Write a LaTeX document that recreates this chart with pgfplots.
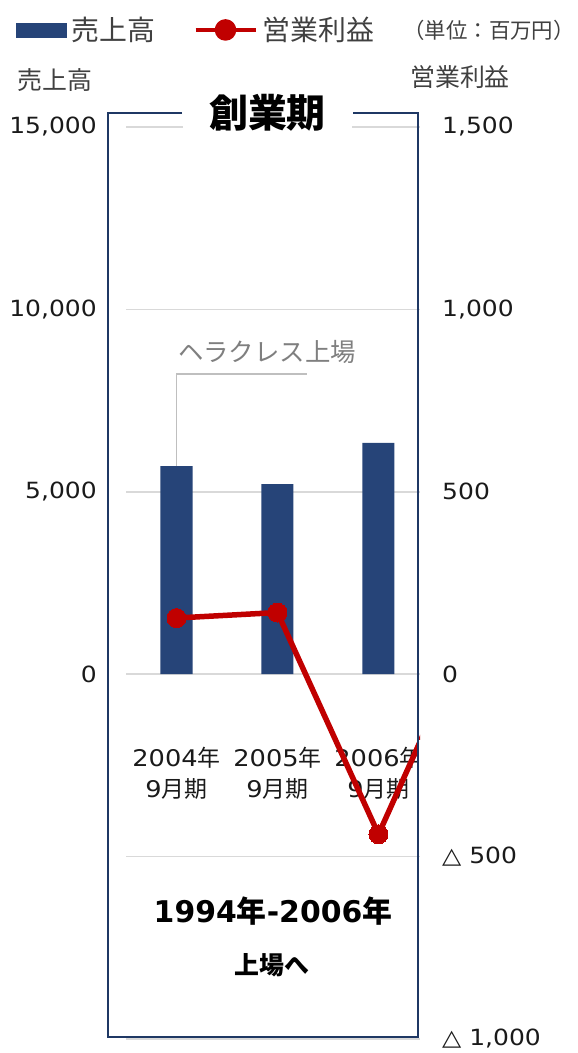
\documentclass[border=0pt]{standalone}
\usepackage{fontspec}
\setmainfont{DejaVu Sans}[FakeStretch=1.12]
\newfontfamily\dv{DejaVu Sans}
\newfontfamily\jp{Noto Sans CJK JP}
\usepackage{pgfplots}
\pgfplotsset{compat=1.18}
\definecolor{barblue}{HTML}{264478}
\definecolor{linered}{HTML}{C00000}
\definecolor{boxnavy}{HTML}{1F3864}
\definecolor{gridgray}{HTML}{D9D9D9}
\definecolor{txt}{HTML}{1A1A1A}
\definecolor{txtb}{HTML}{404040}
\definecolor{annog}{HTML}{7F7F7F}
\definecolor{leadg}{HTML}{BFBFBF}
\begin{document}
\begin{tikzpicture}[x=1bp,y=1bp]
\begin{axis}[
  at={(126bp,14bp)}, anchor=south west, scale only axis,
  width=294bp, height=912bp,
  xmin=-0.5, xmax=2.411, ymin=-10000, ymax=15000,
  scaled y ticks=false,
  xtick={0,1,2},
  xticklabels={{2004{\jp 年}\\9{\jp 月期}},{2005{\jp 年}\\9{\jp 月期}},{2006{\jp 年}\\9{\jp 月期}}},
  xticklabel style={anchor=center, yshift=266bp, inner sep=0bp, align=center,
    font=\fontsize{23}{31}\selectfont, text=txt},
  ytick={-10000,-5000,0,5000,10000,15000},
  yticklabels={,,0,{5,000},{10,000},{15,000}},
  yticklabel style={anchor=east, inner sep=0bp, xshift=-29bp,
    font=\fontsize{22.4}{26}\selectfont, text=txt},
  ymajorgrids, grid style={gridgray, line width=1.5bp},
  axis line style={draw=none}, major tick length=0bp,
  ybar, bar width=32bp,
]
\addplot[fill=barblue, draw=none] coordinates {(0,5704) (1,5210) (2,6343)};
\draw[leadg, line width=1.5bp] (axis cs:0,5704) -- (axis cs:0,8227) -- (axis cs:1.29,8227);
\end{axis}
\begin{axis}[
  at={(126bp,14bp)}, anchor=south west, scale only axis,
  width=294bp, height=912bp,
  xmin=-0.5, xmax=2.411, ymin=-1000, ymax=1500,
  scaled y ticks=false,
  axis y line*=right, axis x line=none,
  ytick={-1000,-500,0,500,1000,1500},
  yticklabels={{△ 1,000},{△ 500},0,500,{1,000},{1,500}},
  yticklabel style={anchor=west, inner sep=0bp, xshift=22bp,
    font=\fontsize{22.4}{26}\selectfont, text=txt},
  axis line style={draw=none}, major tick length=0bp,
  clip marker paths=true,
  legend columns=2,
  legend style={at={(axis description cs:-0.3844,1.1064)}, anchor=west,
    draw=none, fill=none, text=txtb, font=\fontsize{28}{32}\selectfont,
    nodes={inner sep=0bp},
    /tikz/every odd column/.append style={column sep=5bp},
    /tikz/every even column/.append style={column sep=38bp}},
]
\addlegendimage{legend image code/.code={\fill[barblue] (0bp,-7bp) rectangle (50bp,7bp);}}
\addlegendentry{{\jp 売上高}}
\addplot[linered, line width=5.5bp, line join=round, mark=*, mark size=9.5bp,
  mark options={fill=linered, draw=linered, line width=0bp},
  legend image code/.code={\draw[linered, line width=4.5bp] (0bp,0bp)--(60bp,0bp); \fill[linered] (30bp,0bp) circle (8bp);}]
  coordinates {(0,154) (1,169) (2,-439) (3,178)};
\addlegendentry{{\jp 営業利益}}
\end{axis}
% texts
\node[font={\jp\fontsize{21.5}{24}\selectfont}, text=txtb] at (489,1023) {（単位：百万円）};
\node[font={\jp\fontsize{25}{28}\selectfont}, text=txtb] at (55,973) {売上高};
\node[font={\jp\fontsize{25}{28}\selectfont}, text=txtb] at (460,976) {営業利益};
\fill[white] (419,248) rectangle (440,313);
\draw[boxnavy, line width=2bp] (182,940) -- (108,940) -- (108,16) -- (418,16) -- (418,940) -- (353,940);
\fill[white] (183,918) rectangle (352,953);
\node[font={\jp\bfseries\fontsize{39}{42}\selectfont}, text=black] at (267.5,940) {創業期};
\node[text=annog, font={\jp\fontsize{25.5}{28}\selectfont}] at (267,701) {ヘラクレス上場};
\node[text=black, font={\fontsize{30}{34}\selectfont}] at (273,142) {{\dv\bfseries 1994}{\jp\bfseries 年}{\dv\bfseries -2006}{\jp\bfseries 年}};
\node[text=black, font={\jp\bfseries\fontsize{25}{28}\selectfont}] at (272,88) {上場へ};
\pgfresetboundingbox
\path (0,0) rectangle (578,1053);
\end{tikzpicture}
\end{document}
